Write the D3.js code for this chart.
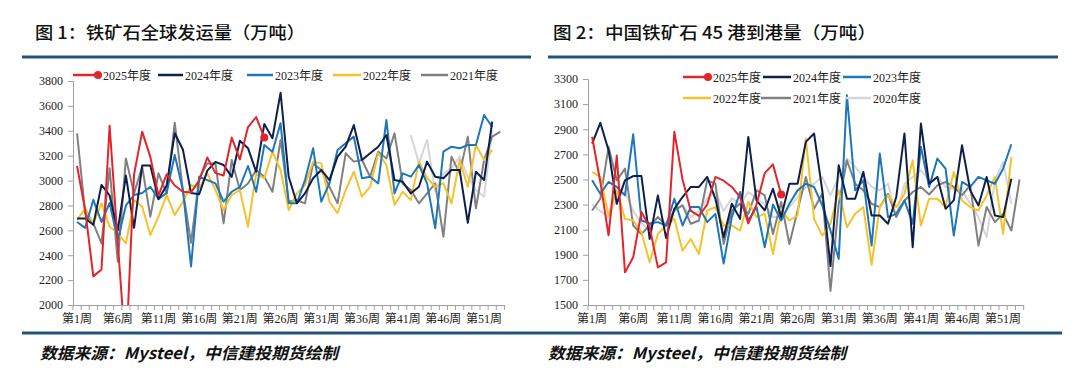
<!DOCTYPE html>
<html><head><meta charset="utf-8">
<script src="https://cdn.jsdelivr.net/npm/d3@7"></script>
<style>body{margin:0;background:#fff}svg{display:block}</style>
</head><body><svg id="c" width="1080" height="391"></svg>
<script>
// ---------- data ----------
const weeks = d3.range(1, 54).map(i => "第" + i + "周");
const tickWeeks = ["第1周","第6周","第11周","第16周","第21周","第26周","第31周","第36周","第41周","第46周","第51周"];
const leftYTicks = [2000,2200,2400,2600,2800,3000,3200,3400,3600,3800];
const rightYTicks = [1500,1700,1900,2100,2300,2500,2700,2900,3100,3300];
const seriesNames = ["2025年度","2024年度","2023年度","2022年度","2021年度","2020年度"];

// 图1 铁矿石全球发运量
const ship2025 = [3117,2760,2230,2285,3440,2500,1600,3050,3393,3190,2880,3050,2960,2910,2905,3000,3185,3060,3040,3345,3170,3430,3510,3345];
const ship2024 = [2695,2695,2645,2965,2880,2600,3040,2620,3120,3120,2850,2960,3380,3250,2900,2890,3080,3150,3125,3030,3320,3260,3070,3454,3340,3706,3030,2817,2897,3018,3085,3004,3192,3272,3446,3165,3219,3272,3366,3004,2990,2897,2950,3152,3031,3018,3085,3085,2661,3071,3004,3473];
const ship2023 = [2667,2620,2845,2667,2820,2522,2800,2884,2900,2950,2852,2900,3205,2924,2310,3031,3004,2977,2830,2910,2950,3117,2910,3286,3232,3460,2817,2817,3004,3259,2830,2977,3245,3299,3353,3018,3031,2977,3487,2897,3058,3031,3125,2977,2616,3232,3272,3259,3286,3286,3527,3430];
const ship2022 = [2683,2777,2656,2817,2629,2576,2495,2843,2790,2562,2710,2884,2723,2830,2964,2937,3058,2924,2763,2884,2924,2629,3058,3018,3232,3085,2763,2897,2964,3152,3138,2830,2737,2924,3071,2870,2950,3219,3125,2803,2910,2843,3152,3020,2950,2980,2817,3165,2950,3286,3165,3245];
const ship2021 = [3379,2736,2656,2495,3098,2348,3178,2897,3111,2710,3058,2897,3465,2924,2500,3018,3138,3138,2656,3165,2924,2977,3085,3031,2910,3326,2830,2843,2817,3138,3085,2950,2817,3219,3152,3165,3031,3232,3178,3379,2977,2924,2817,2897,2977,2549,3192,3058,3353,2777,3165,3353,3393];
const ship2020 = [null,null,null,null,null,null,null,null,null,null,null,null,null,null,null,null,null,null,null,null,null,null,null,null,null,null,null,null,null,null,null,null,null,null,null,null,null,null,null,null,null,3366,3138,3326,2910,3058,3098,3192,3031,2924,2870,3406];

// 图2 中国铁矿石45港到港量
const port2025 = [2840,2480,2055,2690,1760,1880,2240,2120,1800,1840,2880,2500,2250,2210,2300,2520,2490,2440,2360,2150,2300,2550,2620,2380];
const port2024 = [2786,2951,2733,2306,2493,2527,2527,2026,2373,2033,2266,2360,2440,2440,2520,2346,2040,2306,2186,2839,2333,2253,2426,2200,2466,2466,2799,2866,2413,1810,2613,2346,2346,2560,2213,2213,2147,2360,2866,1960,2945,2466,2520,2266,2333,2772,2413,2293,2520,2213,2200,2506];
const port2023 = [2493,2386,2480,2440,2373,2860,2173,2150,2160,2133,2346,2133,2280,2280,2160,2226,1830,2200,2400,2173,2280,1960,2300,2173,2306,2413,2466,2440,2293,2093,1866,3170,2413,2493,1973,2706,2200,2226,2333,2147,2760,2440,2666,2586,2053,2480,2440,2520,2493,2466,2586,2780];
const port2022 = [2560,2520,2213,2413,2186,2173,2080,1840,2066,2133,2186,1933,2026,1906,2253,2280,2133,2133,2093,2320,2200,2226,1906,2253,2173,2213,2826,2186,2053,2147,2413,2120,2226,2280,1820,2280,2373,2280,2386,2652,2133,2346,2346,2280,2560,2333,2280,2253,2373,2520,2066,2680];
const port2021 = [2253,2346,2760,2493,2586,2133,2066,2133,2200,2133,2253,2293,2147,2173,2493,2466,1986,2253,2306,2226,2413,2373,2066,2320,1986,2253,2520,2266,2386,1613,2306,2653,2466,2413,2306,2280,2386,2200,2330,2400,2440,2380,2453,2480,2440,2373,2453,1973,2280,2160,2226,2093,2500];
const port2020 = [2300,2250,2200,2350,2400,2250,2150,2100,2200,2150,2250,2300,2200,2250,2350,2400,2250,2350,2300,2400,2350,2300,2200,2200,2280,2360,2440,2466,2520,2373,2520,2666,2600,2520,2440,2413,2466,2200,2466,2520,2573,2493,2520,2440,2426,2413,2306,2200,2040,2493,2640,2306];

// ---------- styles ----------
const colors = {"2025年度":"#e2252b","2024年度":"#0f1f4b","2023年度":"#1f77b9","2022年度":"#f4c32c","2021年度":"#808080","2020年度":"#d6d6d6"};
const serif = "'Liberation Serif','Noto Sans CJK SC',serif";
const cjk = "'Noto Sans CJK SC',sans-serif";
const svg = d3.select("#c");

function drawChart(cfg){
  const g = svg.append("g");
  const x = d3.scaleBand().domain(weeks).range([cfg.x0, cfg.x0 + 53*cfg.step]);
  const y = d3.scaleLinear().domain([cfg.yTicks[0], cfg.yTicks[cfg.yTicks.length-1]]).range([cfg.yBottom, cfg.yTop]);
  const clipId = "clip" + cfg.id;
  svg.append("defs").append("clipPath").attr("id", clipId).append("rect")
    .attr("x", cfg.x0).attr("y", cfg.yTop - 30).attr("width", 53*cfg.step + 10).attr("height", cfg.yBottom - cfg.yTop + 30);

  // y axis
  const ya = g.append("g").attr("transform", `translate(${cfg.x0},0)`)
    .call(d3.axisLeft(y).tickValues(cfg.yTicks).tickSize(5).tickPadding(5).tickFormat(d3.format("d")));
  ya.select(".domain").attr("stroke", "#a0a0a0");
  ya.selectAll(".tick line").attr("stroke", "#a0a0a0");
  ya.selectAll("text").attr("font-family", serif).attr("font-size", 12).attr("fill", "#222");

  // x axis
  const xa = g.append("g").attr("transform", `translate(0,${cfg.yBottom})`)
    .call(d3.axisBottom(x).tickValues(tickWeeks).tickSize(0).tickPadding(9));
  xa.select(".domain").attr("stroke", "#a0a0a0");
  xa.selectAll("text").attr("font-family", serif).attr("font-size", 12).attr("fill", "#222");
  // category tick marks
  g.append("g").selectAll("line").data(d3.range(54)).join("line")
    .attr("x1", i => cfg.x0 + i*cfg.step).attr("x2", i => cfg.x0 + i*cfg.step)
    .attr("y1", cfg.yBottom).attr("y2", cfg.yBottom + 5).attr("stroke", "#a0a0a0");

  // lines
  const line = d3.line().defined(d => d.v != null)
    .x(d => x(d.w) + x.bandwidth()/2).y(d => y(d.v));
  const lg = g.append("g").attr("clip-path", `url(#${clipId})`);
  cfg.series.slice().reverse().forEach(s => {
    const pts = s.values.map((v, i) => ({w: weeks[i], v}));
    lg.append("path").datum(pts).attr("d", line).attr("fill", "none")
      .attr("stroke", colors[s.name]).attr("stroke-width", 2).attr("stroke-linejoin", "round");
  });
  // 2025 last point marker
  const s25 = cfg.series[0];
  const li = s25.values.length - 1;
  g.append("circle").attr("cx", x(weeks[li]) + x.bandwidth()/2).attr("cy", y(s25.values[li]))
    .attr("r", 4).attr("fill", colors[s25.name]);

  // legend
  cfg.legend.forEach(l => {
    g.append("line").attr("x1", l.x1).attr("x2", l.x2).attr("y1", l.y).attr("y2", l.y)
      .attr("stroke", colors[l.name]).attr("stroke-width", 2.5);
    if (l.name === "2025年度") g.append("circle").attr("cx", l.x2 - 3).attr("cy", l.y).attr("r", 4).attr("fill", colors[l.name]);
    g.append("text").attr("x", l.x2 + 2).attr("y", l.y + 4.5).text(l.name)
      .attr("font-family", serif).attr("font-size", 12).attr("fill", "#222");
  });

  // title
  g.append("text").attr("x", cfg.titleX).attr("y", 39).text(cfg.title)
    .attr("font-family", cjk).attr("font-size", 17).attr("font-weight", 500).attr("fill", "#111")
    .attr("textLength", cfg.titleLen).attr("lengthAdjust", "spacingAndGlyphs");
  g.append("line").attr("x1", cfg.lineX1).attr("x2", cfg.lineX2).attr("y1", 57).attr("y2", 57)
    .attr("stroke", "#24527c").attr("stroke-width", 3);
  // source
  g.append("text").attr("x", cfg.srcX).attr("y", 359).text("数据来源：Mysteel，中信建投期货绘制")
    .attr("font-family", cjk).attr("font-size", 16).attr("font-weight", 700).attr("font-style", "italic")
    .attr("fill", "#111").attr("textLength", 298).attr("lengthAdjust", "spacingAndGlyphs");
}

drawChart({
  id: "L", x0: 73, step: 8.14, yTop: 81, yBottom: 305, yTicks: leftYTicks,
  series: [
    {name: "2025年度", values: ship2025},
    {name: "2024年度", values: ship2024},
    {name: "2023年度", values: ship2023},
    {name: "2022年度", values: ship2022},
    {name: "2021年度", values: ship2021},
    {name: "2020年度", values: ship2020}
  ],
  legend: [
    {name: "2025年度", x1: 73, x2: 101, y: 75},
    {name: "2024年度", x1: 158, x2: 183, y: 75},
    {name: "2023年度", x1: 247, x2: 273, y: 75},
    {name: "2022年度", x1: 333, x2: 361, y: 75},
    {name: "2021年度", x1: 421, x2: 448, y: 75}
  ],
  title: "图 1：铁矿石全球发运量（万吨）", titleX: 35, titleLen: 270,
  lineX1: 22, lineX2: 531, srcX: 40
});

drawChart({
  id: "R", x0: 588, step: 8.22, yTop: 79, yBottom: 305, yTicks: rightYTicks,
  series: [
    {name: "2025年度", values: port2025},
    {name: "2024年度", values: port2024},
    {name: "2023年度", values: port2023},
    {name: "2022年度", values: port2022},
    {name: "2021年度", values: port2021},
    {name: "2020年度", values: port2020}
  ],
  legend: [
    {name: "2025年度", x1: 683, x2: 711, y: 77},
    {name: "2024年度", x1: 763, x2: 791, y: 77},
    {name: "2023年度", x1: 843, x2: 871, y: 77},
    {name: "2022年度", x1: 683, x2: 711, y: 98},
    {name: "2021年度", x1: 761, x2: 791, y: 98},
    {name: "2020年度", x1: 845, x2: 871, y: 98}
  ],
  title: "图 2：中国铁矿石 45 港到港量（万吨）", titleX: 553, titleLen: 323,
  lineX1: 548, lineX2: 1058, srcX: 548
});

// bottom separator
svg.append("line").attr("x1", 22).attr("x2", 1062).attr("y1", 333).attr("y2", 333)
  .attr("stroke", "#24527c").attr("stroke-width", 3);
</script></body></html>
